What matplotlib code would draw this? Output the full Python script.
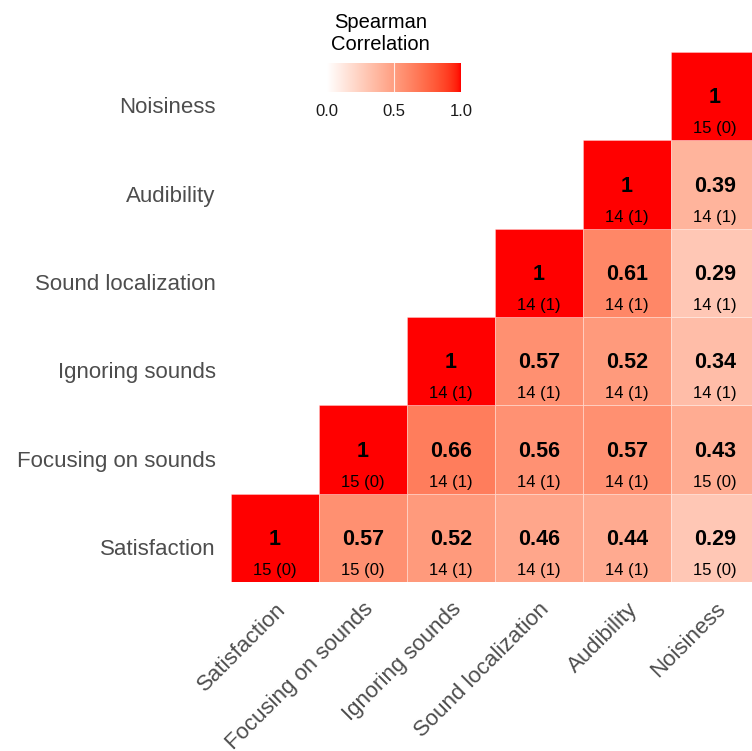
import numpy as np
import matplotlib.pyplot as plt
import matplotlib.transforms as mtransforms
from matplotlib.colors import ListedColormap

plt.rcParams['font.family'] = ['Liberation Sans', 'DejaVu Sans']

# variables, bottom row / left column first
labels = ['Satisfaction', 'Focusing on sounds', 'Ignoring sounds',
          'Sound localization', 'Audibility', 'Noisiness']

# Spearman rho for each row, from the diagonal to the right
rho = [
    [1, 0.57, 0.52, 0.46, 0.44, 0.29],
    [1, 0.66, 0.56, 0.57, 0.43],
    [1, 0.57, 0.52, 0.34],
    [1, 0.61, 0.29],
    [1, 0.39],
    [1],
]
# pairwise n (missing)
counts = [
    ['15 (0)', '15 (0)', '14 (1)', '14 (1)', '14 (1)', '15 (0)'],
    ['15 (0)', '14 (1)', '14 (1)', '14 (1)', '15 (0)'],
    ['14 (1)', '14 (1)', '14 (1)', '14 (1)'],
    ['14 (1)', '14 (1)', '14 (1)'],
    ['14 (1)', '14 (1)'],
    ['15 (0)'],
]


# white -> red gradient interpolated in CIE Lab
def srgb_to_lab(rgb):
    rgb = np.asarray(rgb, float)
    lin = np.where(rgb <= 0.04045, rgb / 12.92, ((rgb + 0.055) / 1.055) ** 2.4)
    m = np.array([[0.4124, 0.3576, 0.1805],
                  [0.2126, 0.7152, 0.0722],
                  [0.0193, 0.1192, 0.9505]])
    xyz = lin @ m.T / np.array([0.95047, 1.0, 1.08883])
    f = np.where(xyz > 0.008856, np.cbrt(xyz), 7.787 * xyz + 16 / 116)
    return np.stack([116 * f[..., 1] - 16, 500 * (f[..., 0] - f[..., 1]),
                     200 * (f[..., 1] - f[..., 2])], -1)


def lab_to_srgb(lab):
    L, a, b = lab[..., 0], lab[..., 1], lab[..., 2]
    fy = (L + 16) / 116
    fx = fy + a / 500
    fz = fy - b / 200
    f = np.stack([fx, fy, fz], -1)
    xyz = np.where(f ** 3 > 0.008856, f ** 3, (f - 16 / 116) / 7.787)
    xyz = xyz * np.array([0.95047, 1.0, 1.08883])
    m = np.array([[3.2406, -1.5372, -0.4986],
                  [-0.9689, 1.8758, 0.0415],
                  [0.0557, -0.2040, 1.0570]])
    lin = xyz @ m.T
    rgb = np.where(lin <= 0.0031308, 12.92 * lin, 1.055 * np.clip(lin, 0, None) ** (1 / 2.4) - 0.055)
    return np.clip(rgb, 0, 1)


t = np.linspace(0, 1, 256)[:, None]
lab_lo = srgb_to_lab([1, 1, 1])
lab_hi = srgb_to_lab([1, 0, 0])
cmap = ListedColormap(lab_to_srgb(lab_lo + t * (lab_hi - lab_lo)))

fig = plt.figure(figsize=(7.52, 7.51), dpi=100)
ax = fig.add_axes([0.3072, 0.225, 0.702, 0.7057])

n = len(labels)
for i in range(n):
    for k, (r, c) in enumerate(zip(rho[i], counts[i])):
        j = i + k
        ax.add_patch(plt.Rectangle((j - 0.5, i - 0.5), 1, 1, facecolor=cmap(float(r)),
                                   edgecolor=(1, 1, 1, 0.35), linewidth=0.6))
        ax.text(j, i - 0.02, f'{r:g}', ha='center', va='center',
                fontsize=15.5, fontweight='bold', color='black')
        ax.text(j, i - 0.37, c, ha='center', va='center',
                fontsize=12, color='black')

ax.set_xlim(-0.5, n - 0.5)
ax.set_ylim(-0.5, n - 0.5)
ax.set_xticks(range(n))
ax.set_yticks(range(n))
ax.set_xticklabels(labels, rotation=45, ha='right', va='top',
                   rotation_mode='anchor', fontsize=16, color='#4d4d4d')
ax.set_yticklabels(labels, fontsize=16, color='#4d4d4d')
ax.tick_params(length=0, pad=11)
ax.tick_params(axis='x', pad=12)
# row labels sit a little below the row centres
shift = mtransforms.ScaledTranslation(0, -0.09, fig.dpi_scale_trans)
for lab in ax.get_yticklabels():
    lab.set_transform(lab.get_transform() + shift)
for s in ax.spines.values():
    s.set_visible(False)

# horizontal colour bar legend
cax = fig.add_axes([0.435, 0.8775, 0.178, 0.0386])
grad = np.linspace(0, 1, 256)[None, :]
cax.imshow(grad, aspect='auto', cmap=cmap, extent=[0, 1, 0, 1], vmin=0, vmax=1)
cax.axvline(0.5, color='white', linewidth=0.8, alpha=0.8)
cax.set_yticks([])
cax.set_xticks([0, 0.5, 1])
cax.set_xticklabels(['0.0', '0.5', '1.0'], fontsize=12, color='#1a1a1a')
cax.tick_params(length=0, pad=9)
for s in cax.spines.values():
    s.set_visible(False)
fig.text(0.506, 0.955, 'Spearman\nCorrelation', ha='center', va='center',
         fontsize=14.5, linespacing=1.2)

fig.savefig('out.png', dpi=100)
plt.close(fig)
